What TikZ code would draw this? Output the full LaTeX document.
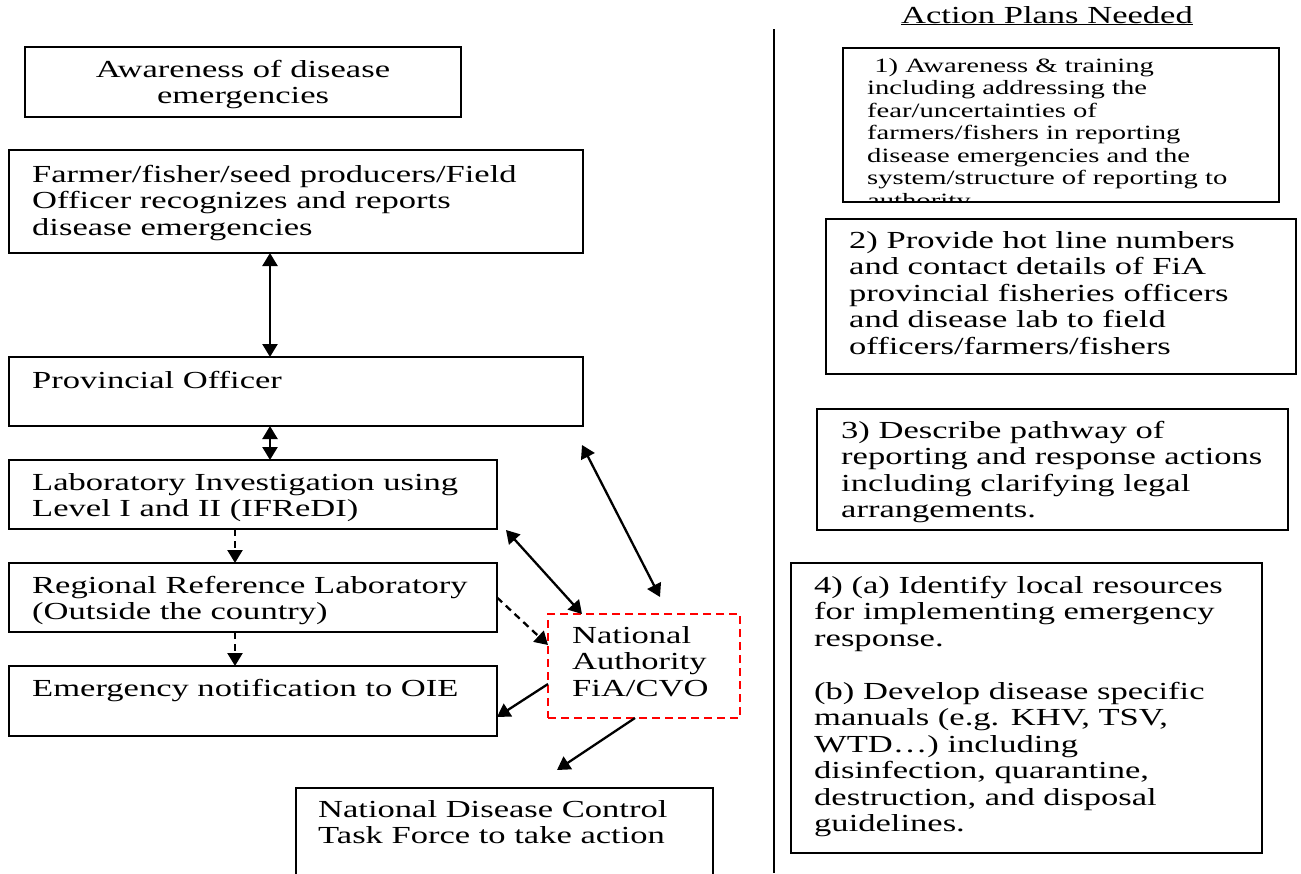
\documentclass[tikz,border=0pt]{standalone}
\usepackage{fontspec}
\setmainfont{Liberation Serif}[FakeStretch=1.41]
\usetikzlibrary{arrows.meta,calc}

\newcommand{\bodyfont}{\fontsize{24.5}{26.5}\selectfont}
\newcommand{\notefont}{\fontsize{20.3}{22.5}\selectfont}

\begin{document}
\begin{tikzpicture}[x=1pt,y=-1pt,
  box/.style={draw, line width=1.9pt, rectangle, anchor=north west, inner sep=0pt, outer sep=0pt},
  redbox/.style={box, draw=red, line width=2pt, dash pattern=on 8pt off 5pt},
  txt/.style={anchor=north west, inner sep=0pt, align=left, font=\bodyfont},
  link/.style={line width=2.3pt, {Triangle[length=13pt,width=15pt]}-{Triangle[length=13pt,width=15pt]}},
  oneway/.style={line width=2.3pt, -{Triangle[length=13pt,width=15pt]}},
  dashlink/.style={oneway, dash pattern=on 7pt off 5pt},
]
\clip (0,0) rectangle (1301,873);

% ---------- left column: reporting pathway ----------
\node[box, minimum width=436pt, minimum height=70pt]  (aware) at (25,47) {};
\node[txt, align=center, anchor=north] (awaretxt) at (243,58.5)
  {\strut Awareness of disease\\emergencies};

\node[box, minimum width=574pt, minimum height=103pt] (F) at (9,150) {};
\node[txt] (Ftxt) at (32,163.5)
  {\strut Farmer/fisher/seed producers/Field\\Officer recognizes and reports\\disease emergencies};

\node[box, minimum width=574pt, minimum height=69pt]  (P) at (9,357) {};
\node[txt] (Ptxt) at (32,369.5) {\strut Provincial Officer};

\node[box, minimum width=488pt, minimum height=69pt]  (L) at (9,460) {};
\node[txt] (Ltxt) at (32,471.5)
  {\strut Laboratory Investigation using\\Level I and II (IFReDI)};

\node[box, minimum width=488pt, minimum height=69pt]  (R) at (9,563) {};
\node[txt] (Rtxt) at (32,574.5)
  {\strut Regional Reference Laboratory\\(Outside the country)};

\node[box, minimum width=488pt, minimum height=70pt]  (E) at (9,666) {};
\node[txt] (Etxt) at (32,677.5) {\strut Emergency notification to OIE};

\node[redbox, minimum width=192pt, minimum height=104pt] (N) at (548,614) {};
\node[txt] (Ntxt) at (572,624.5) {\strut National\\Authority\\FiA/CVO};

\node[box, minimum width=417pt, minimum height=110pt] (T) at (296,788) {};
\node[txt] (Ttxt) at (318,798.5)
  {\strut National Disease Control\\Task Force to take action};

% ---------- connectors ----------
\coordinate (xa) at (270,0);
\coordinate (xb) at (235,0);
\draw[link] (F.south -| xa) -- (P.north -| xa);
\draw[link] (P.south -| xa) -- (L.north -| xa);
\draw[dashlink] (L.south -| xb) -- (R.north -| xb);
\draw[dashlink] (R.south -| xb) -- (E.north -| xb);
\draw[dashlink] (R.east) -- ($(N.west)+(0,-21)$);
\draw[link] ($(L.south east)+(9,1)$) -- ($(N.north west)+(34,0)$);
\draw[link] ($(P.south east)+(-1,19)$) -- ($(N.north west)+(112,-17)$);
\draw[oneway] ($(N.west)+(0,18)$) -- ($(E.east)+(0,16)$);
\draw[oneway] ($(N.south)+(-9,0)$) -- ($(T.north west)+(261,-18)$);

% ---------- divider ----------
\coordinate (divtop) at (774,29);
\coordinate (divbot) at (774,873);
\draw[line width=1.6pt] (divtop) -- (divbot);

% ---------- right column: action plans ----------
\node[font=\bodyfont, anchor=base, inner sep=0pt] (title) at (1047,23)
  {\underline{Action Plans Needed}};

\node[box, minimum width=436pt, minimum height=154pt] (A1) at (843,48) {};
\begin{scope}
  \clip (A1.north west) rectangle (A1.south east);
  \node[txt, font=\notefont] (A1txt) at (867,56.25)
    {\strut\ 1) Awareness \& training\\including addressing the\\fear/uncertainties of\\farmers/fishers in reporting\\disease emergencies and the\\system/structure of reporting to\\authority.};
\end{scope}

\node[box, minimum width=470pt, minimum height=155pt] (A2) at (826,219) {};
\node[txt] (A2txt) at (849,229.5)
  {\strut 2) Provide hot line numbers\\and contact details of FiA\\provincial fisheries officers\\and disease lab to field\\officers/farmers/fishers};

\node[box, minimum width=471pt, minimum height=121pt] (A3) at (817,409) {};
\node[txt] (A3txt) at (841,419.5)
  {\strut 3) Describe pathway of\\reporting and response actions\\including clarifying legal\\arrangements.};

\node[box, minimum width=471pt, minimum height=290pt] (A4) at (791,563) {};
\node[txt] (A4txt) at (814,574.5)
  {\strut 4) (a) Identify local resources\\for implementing emergency\\response.\\[26.5pt](b) Develop disease specific\\manuals (e.g. KHV, TSV,\\WTD…) including\\disinfection, quarantine,\\destruction, and disposal\\guidelines.};

\end{tikzpicture}
\end{document}
